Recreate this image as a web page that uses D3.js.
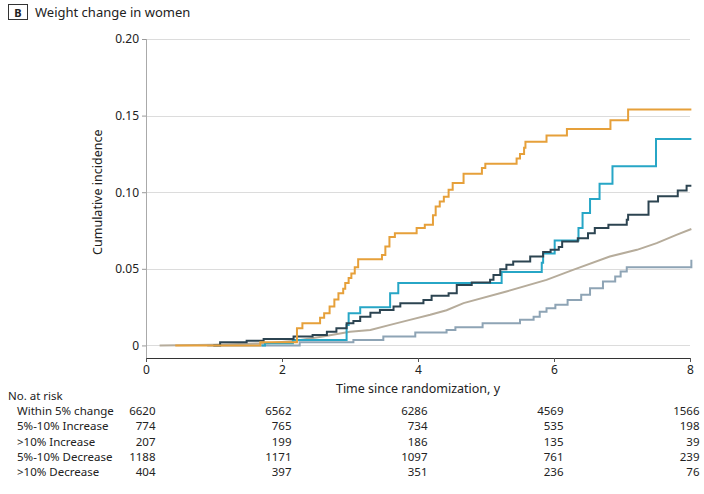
<!DOCTYPE html>
<html>
<head>
<meta charset="utf-8">
<script src="https://cdn.jsdelivr.net/npm/d3@7"></script>
<style>
  body { margin: 0; background: #fff; }
  svg { font-family: "Noto Sans", sans-serif; }
</style>
</head>
<body>
<svg id="chart"></svg>
<script>
// step points [years, cumulative incidence]
const within5 = [[0.2,0],[1.0,0.0005],[1.8,0.0015],[2.2,0.003],[2.6,0.0058],[3.0,0.009],[3.3,0.0101],[3.59,0.0134],[3.88,0.0167],[4.18,0.02],[4.42,0.023],[4.67,0.0276],[5.3,0.0352],[5.89,0.0428],[6.28,0.0493],[6.82,0.058],[7.22,0.0624],[7.51,0.0668],[7.8,0.0722],[8.02,0.076]];
const inc5to10 = [[0.99,0],[1.09,0.002],[1.48,0.003],[1.73,0.0042],[2.17,0.0058],[2.45,0.0068],[2.66,0.009],[2.8,0.0112],[2.95,0.0145],[3.05,0.016],[3.15,0.0188],[3.3,0.0214],[3.44,0.0232],[3.64,0.0254],[3.74,0.0276],[4.08,0.0297],[4.2,0.0324],[4.45,0.034],[4.57,0.0395],[4.79,0.041],[5.06,0.0428],[5.11,0.046],[5.21,0.0498],[5.3,0.0526],[5.4,0.0548],[5.65,0.058],[5.84,0.061],[5.95,0.0625],[6.07,0.0642],[6.12,0.0678],[6.35,0.07],[6.5,0.0733],[6.6,0.0766],[6.8,0.0788],[7.07,0.082],[7.09,0.0853],[7.39,0.094],[7.53,0.0973],[7.82,0.1012],[7.95,0.1042],[8.02,0.1042]];
const incOver10 = [[0.43,0],[1.68,0.002],[2.22,0.0112],[2.3,0.0145],[2.56,0.018],[2.62,0.021],[2.7,0.0254],[2.77,0.03],[2.83,0.0341],[2.9,0.037],[2.93,0.0407],[2.98,0.044],[3.02,0.047],[3.07,0.051],[3.12,0.0563],[3.47,0.059],[3.52,0.0646],[3.58,0.0707],[3.66,0.0733],[3.98,0.0766],[4.1,0.0788],[4.22,0.085],[4.26,0.0907],[4.32,0.094],[4.38,0.097],[4.45,0.1016],[4.51,0.106],[4.67,0.112],[4.94,0.1158],[4.99,0.1186],[5.45,0.122],[5.5,0.125],[5.56,0.129],[5.58,0.133],[5.89,0.137],[6.19,0.1413],[6.83,0.147],[7.09,0.154],[8.02,0.154]];
const dec5to10 = [[0.9,0],[2.26,0.002],[3.05,0.0036],[3.49,0.0058],[3.96,0.0084],[4.42,0.0101],[4.55,0.0119],[4.95,0.0145],[5.5,0.0167],[5.7,0.0188],[5.79,0.022],[5.89,0.0243],[6.02,0.0265],[6.2,0.0297],[6.4,0.033],[6.53,0.0374],[6.72,0.0417],[6.9,0.045],[6.98,0.0482],[7.07,0.0511],[8.02,0.0511],[8.02,0.0559]];
const decOver10 = [[1.7,0],[1.75,0.0014],[2.16,0.0036],[2.95,0.0134],[2.98,0.021],[3.15,0.025],[3.59,0.0341],[3.71,0.0407],[5.23,0.048],[5.82,0.054],[5.84,0.06],[6.01,0.0685],[6.36,0.0766],[6.42,0.0864],[6.53,0.0956],[6.67,0.1056],[6.86,0.1169],[7.5,0.1348],[8.02,0.1348]];

const yTicks = [0, 0.05, 0.10, 0.15, 0.20];
const xTicks = [0, 2, 4, 6, 8];

const riskGroups = ["Within 5% change", "5%-10% Increase", ">10% Increase", "5%-10% Decrease", ">10% Decrease"];
const riskCounts = [
  [6620, 6562, 6286, 4569, 1566],
  [774, 765, 734, 535, 198],
  [207, 199, 186, 135, 39],
  [1188, 1171, 1097, 761, 239],
  [404, 397, 351, 236, 76]
];

const series = [
  { data: within5, color: "#b6ac9b", curve: d3.curveLinear },
  { data: dec5to10, color: "#8ea4b5", curve: d3.curveStepAfter },
  { data: decOver10, color: "#27a6c6", curve: d3.curveStepAfter },
  { data: inc5to10, color: "#2c4451", curve: d3.curveStepAfter },
  { data: incOver10, color: "#e6a03a", curve: d3.curveStepAfter }
];

const W = 704, H = 494;
const svg = d3.select("#chart").attr("width", W).attr("height", H);

const x = d3.scaleLinear().domain([0, 8]).range([146, 690]);
const y = d3.scaleLinear().domain([-0.0082, 0.2]).range([358, 39]);

// title
svg.append("rect")
  .attr("x", 8.5).attr("y", 4.5).attr("width", 19).attr("height", 15)
  .attr("fill", "none").attr("stroke", "#333").attr("stroke-width", 1);
svg.append("text")
  .attr("x", 18).attr("y", 16.5).attr("text-anchor", "middle")
  .style("font-size", "11px").style("font-weight", "bold").attr("fill", "#222")
  .text("B");
svg.append("text")
  .attr("x", 35).attr("y", 17)
  .style("font-size", "13px").attr("fill", "#222")
  .text("Weight change in women");

// grid
svg.append("g")
  .selectAll("line")
  .data(yTicks)
  .join("line")
  .attr("x1", x(0)).attr("x2", x(8))
  .attr("y1", d => Math.round(y(d)) + 0.5).attr("y2", d => Math.round(y(d)) + 0.5)
  .attr("stroke", "#dcdcdc").attr("stroke-width", 1);

// y axis
const yAxis = d3.axisLeft(y)
  .tickValues(yTicks)
  .tickSize(4)
  .tickPadding(3)
  .tickFormat(d => d === 0 ? "0" : d3.format(".2f")(d));
const gy = svg.append("g")
  .attr("transform", `translate(${x(0)},0)`)
  .call(yAxis);
gy.select(".domain").attr("d", `M0.5,${y(0.2)}V${y.range()[0]}`).attr("stroke", "#aaa");
gy.selectAll(".tick line").attr("stroke", "#999");
gy.selectAll(".tick text").style("font-size", "12px").attr("fill", "#222")
  .attr("font-family", "Noto Sans");

svg.append("text")
  .attr("transform", `translate(102,${y(0.1)}) rotate(-90)`)
  .attr("text-anchor", "middle")
  .style("font-size", "12.5px").attr("fill", "#222")
  .text("Cumulative incidence");

// x axis
const xAxis = d3.axisBottom(x)
  .tickValues(xTicks)
  .tickSize(4)
  .tickPadding(3)
  .tickFormat(d3.format("d"));
const gx = svg.append("g")
  .attr("transform", `translate(0,${y.range()[0]})`)
  .call(xAxis);
gx.select(".domain").attr("d", `M${x(0)},0.5H${x(8)}`).attr("stroke", "#333");
gx.selectAll(".tick line").attr("stroke", "#555");
gx.selectAll(".tick text").style("font-size", "12px").attr("fill", "#222")
  .attr("font-family", "Noto Sans");

svg.append("text")
  .attr("x", x(4)).attr("y", 393)
  .attr("text-anchor", "middle")
  .style("font-size", "12.5px").attr("fill", "#222")
  .text("Time since randomization, y");

// curves
const line = d3.line().x(d => x(d[0])).y(d => y(d[1]));
svg.append("g")
  .selectAll("path")
  .data(series)
  .join("path")
  .attr("d", s => line.curve(s.curve)(s.data))
  .attr("fill", "none")
  .attr("stroke", s => s.color)
  .attr("stroke-width", 2)
  .attr("stroke-linejoin", "miter");

// number at risk table
svg.append("text")
  .attr("x", 8).attr("y", 400)
  .style("font-size", "11.5px").attr("fill", "#222")
  .text("No. at risk");

const rowY = d3.scalePoint().domain(riskGroups).range([415, 476]);
const rows = svg.append("g")
  .selectAll("g")
  .data(riskGroups)
  .join("g")
  .attr("transform", d => `translate(0,${rowY(d)})`);

rows.append("text")
  .attr("x", 17)
  .style("font-size", "11.5px").attr("fill", "#222")
  .text(d => d);

rows.selectAll(".num")
  .data((d, i) => riskCounts[i].map((c, j) => ({ c, t: xTicks[j] })))
  .join("text")
  .attr("class", "num")
  .attr("x", d => x(d.t) + 9.5)
  .attr("text-anchor", "end")
  .style("font-size", "11.5px").attr("fill", "#222")
  .text(d => d.c);
</script>
</body>
</html>
